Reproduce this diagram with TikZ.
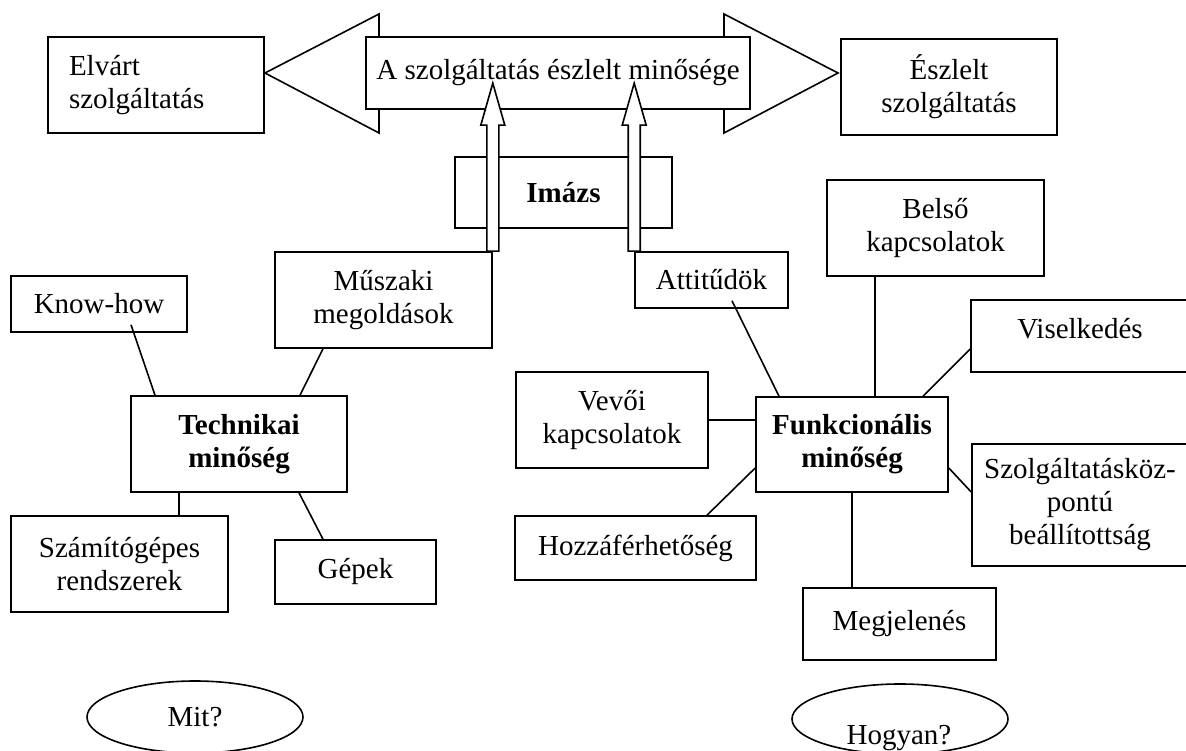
\documentclass[tikz,border=0pt]{standalone}
\usepackage{fontspec}
\setmainfont{Liberation Serif}
\usetikzlibrary{shapes.geometric}
\tikzset{
  ln/.style={line width=1.6pt},
  box/.style={draw, ln, fill=white, inner sep=0pt, align=center,
    font=\fontsize{29}{33}\selectfont},
  bbox/.style={box, font=\fontsize{29}{33}\selectfont\bfseries},
  oval/.style={draw, ln, ellipse, inner sep=0pt, minimum width=216pt,
    font=\fontsize{29}{33}\selectfont},
  plain/.style={inner sep=0pt, font=\fontsize{29}{33}\selectfont},
}
\newcommand{\hollowarrow}[1]{%
  \draw[ln, fill=white] (#1) ++(-6,0) -- ++(0,-126) -- ++(-6,0) -- ++(12,-42)
    -- ++(12,42) -- ++(-6,0) -- ++(0,126) -- cycle;}
\begin{document}
\begin{tikzpicture}[x=1pt,y=-1pt]
\useasboundingbox (0,0) rectangle (1186,751);
\fill[white] (0,0) rectangle (1186,751);
\clip (0,0) rectangle (1186,751);

% big double arrow
\draw[ln, fill=white] (265,73) -- (379,14) -- (379,37) -- (724,37) -- (724,14)
  -- (838,73) -- (724,133) -- (724,109) -- (379,109) -- (379,133) -- cycle;

\node[box, align=left, text width=174pt, inner xsep=21pt, minimum height=96pt]
  (elvart) at (156,85) {Elvárt\\szolgáltatás};
\node[box, minimum width=384pt, minimum height=72pt] (main) at (558,73)
  {A szolgáltatás észlelt minősége};
\node[box, minimum width=216pt, minimum height=96pt] (eszlelt) at (949,87)
  {Észlelt\\szolgáltatás};

\node[bbox, minimum width=217pt, minimum height=71pt] (imazs) at (563.5,192.5) {Imázs};

% left cluster
\node[box, minimum width=217pt, minimum height=96pt] (muszaki) at (383.5,300)
  {Műszaki\\megoldások};
\node[box, minimum width=153pt, minimum height=56pt] (attitudok) at (711.5,280)
  {Attitűdök};
\hollowarrow{muszaki.north east}
\hollowarrow{attitudok.north west}

\node[box, minimum width=176pt, minimum height=56pt] (knowhow) at (99,304) {Know-how};
\node[bbox, minimum width=216pt, minimum height=96pt] (technikai) at (239,444)
  {Technikai\\minőség};
\node[box, minimum width=217pt, minimum height=96pt] (szamit) at (119.5,564)
  {Számítógépes\\rendszerek};
\node[box, minimum width=161pt, minimum height=64pt] (gepek) at (355.5,572) {Gépek};

% right cluster
\node[box, minimum width=217pt, minimum height=96pt] (belso) at (935.5,228)
  {Belső\\kapcsolatok};
\node[box, minimum width=218pt, minimum height=72pt] (viselkedes) at (1080,336)
  {\raisebox{16pt}{Viselkedés}};
\node[bbox, minimum width=192pt, minimum height=95pt] (funk) at (852,444.5)
  {Funkcionális\\minőség};
\node[box, minimum width=192pt, minimum height=96pt] (vevoi) at (612,420)
  {Vevői\\kapcsolatok};
\node[box, minimum width=241pt, minimum height=64pt] (hozza) at (635.5,548)
  {Hozzáférhetőség};
\node[box, minimum width=193pt, minimum height=72pt] (megj) at (899.5,624)
  {\raisebox{6pt}{Megjelenés}};
\node[box, minimum width=216pt, minimum height=122pt] (szolg) at (1080,505)
  {Szolgáltatásköz-\\pontú\\beállítottság};

% connectors, left
\draw[ln] ([shift={(32,-8)}]knowhow.south) -- ([shift={(-84,0)}]technikai.north);
\draw[ln] ([shift={(-60.5,0)}]muszaki.south) -- ([shift={(61,0)}]technikai.north);
\coordinate (tsl) at ([shift={(-60,0)}]technikai.south);
\draw[ln] (tsl) -- (tsl |- szamit.north);
\draw[ln] ([shift={(60,0)}]technikai.south) -- ([shift={(-32.5,0)}]gepek.north);

% connectors, right
\draw[ln] ([shift={(20.5,-8)}]attitudok.south) -- ([shift={(-73,0)}]funk.north);
\coordinate (bs) at ([shift={(-60.5,0)}]belso.south);
\draw[ln] (bs) -- (bs |- funk.north);
\draw[ln] ([shift={(1,12)}]viselkedes.west) -- ([shift={(71,0)}]funk.north);
\draw[ln] (vevoi.east) -- (vevoi.east -| funk.west);
\draw[ln] ([shift={(71.5,0)}]hozza.north) -- ([shift={(0,23.5)}]funk.west);
\draw[ln] ([shift={(0,23.5)}]funk.east) -- ([shift={(0,-13)}]szolg.west);
\draw[ln] (funk.south) -- (funk.south |- megj.north);

% ovals
\node[oval, minimum height=72pt] (mit) at (195,717) {Mit?};
\node[oval, minimum height=70pt] (hogyan) at (900,719) {};
\node[plain] (hogyantext) at (899,738) {Hogyan?};
\end{tikzpicture}
\end{document}
